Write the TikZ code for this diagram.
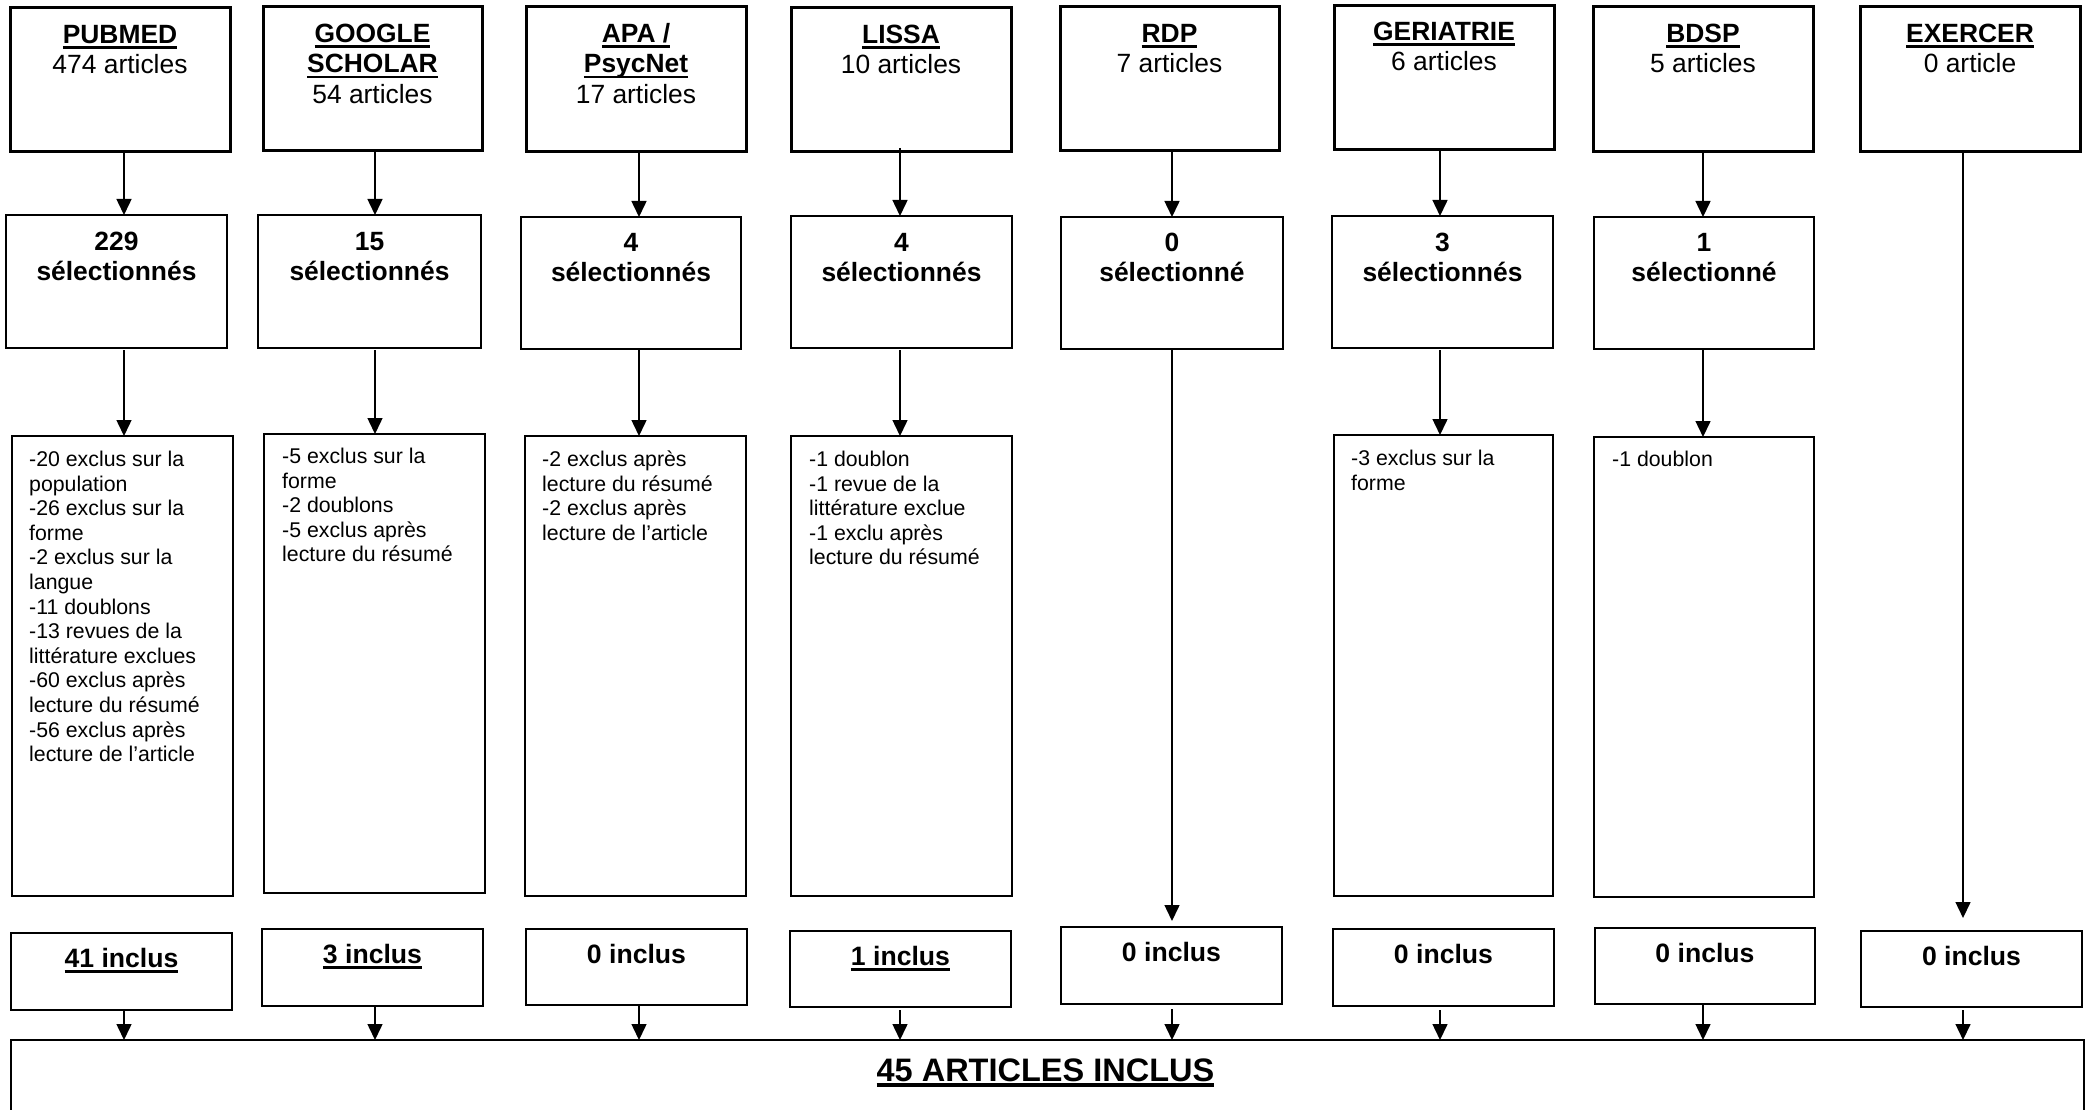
\documentclass[tikz,border=0pt]{standalone}
\usepackage{fontspec}
\setmainfont{Liberation Sans}
\usetikzlibrary{arrows.meta,calc}
\newcommand{\myul}[3]{\begingroup\setbox0\hbox{#3}\rlap{\rule[-#1]{\wd0}{#2}}\box0\endgroup}
\newcommand{\hd}[1]{\myul{0.2em}{0.1em}{\bfseries #1}}
\newcommand{\st}{\rule{0pt}{1em}}
\newcommand{\mkbox}[6]{\node[#1, minimum width={(#5)-(#3)}, minimum height={(#6)-(#4)}] (#2) at ({((#3)+(#5))/2},{((#4)+(#6))/2}) {};}
\tikzset{
  box/.style={draw=black, line width=1.5pt, inner sep=0pt, outer sep=0pt, rectangle},
  srcbox/.style={box, line width=3pt},
  arr/.style={draw=black, line width=1.5pt, -{Triangle[width=15pt,length=16pt]}},
  ttl/.style={anchor=north, inner sep=0pt, align=center, font=\fontsize{26.4}{30.4}\selectfont},
  seltxt/.style={anchor=north, inner sep=0pt, align=center, font=\fontsize{26.4}{29.6}\selectfont\bfseries},
  exctxt/.style={anchor=north west, inner sep=0pt, align=left, font=\fontsize{21.3}{24.6}\selectfont},
  inctxt/.style={anchor=north, inner sep=0pt, align=center, font=\fontsize{26.6}{30}\selectfont\bfseries},
  fintxt/.style={anchor=north, inner sep=0pt, align=center, font=\fontsize{32.5}{36}\selectfont\bfseries}
}
\begin{document}
\begin{tikzpicture}[x=1pt,y=-1pt]
\useasboundingbox (0,0) rectangle (2087,1110);
\clip (0,0) rectangle (2087,1110);
\fill[white] (0,0) rectangle (2087,1110);
% column axes
\coordinate (c1) at (124,0);
\coordinate (c2) at (375,0);
\coordinate (c3) at (639,0);
\coordinate (c4) at (900,0);
\coordinate (c5) at (1172,0);
\coordinate (c6) at (1440,0);
\coordinate (c7) at (1703,0);
\coordinate (c8) at (1963,0);
% source boxes
\mkbox{srcbox}{s1}{10}{8}{230}{152}
\mkbox{srcbox}{s2}{263}{7}{482}{151}
\mkbox{srcbox}{s3}{526}{7}{746}{152}
\mkbox{srcbox}{s4}{791}{8}{1011}{152}
\mkbox{srcbox}{s5}{1060}{7}{1279}{151}
\mkbox{srcbox}{s6}{1334}{6}{1554}{150}
\mkbox{srcbox}{s7}{1593}{7}{1813}{152}
\mkbox{srcbox}{s8}{1860}{7}{2080}{152}
\node[ttl] (s1x) at ($(s1.north)+(0,9)$) {\st\hd{PUBMED}\\474 articles};
\node[ttl] (s2x) at ($(s2.north)+(0,9)$) {\st\hd{GOOGLE}\\\hd{SCHOLAR}\\54 articles};
\node[ttl] (s3x) at ($(s3.north)+(0,9)$) {\st\hd{APA /}\\\hd{PsycNet}\\17 articles};
\node[ttl] (s4x) at ($(s4.north)+(0,9)$) {\st\hd{LISSA}\\10 articles};
\node[ttl] (s5x) at ($(s5.north)+(0,9)$) {\st\hd{RDP}\\7 articles};
\node[ttl] (s6x) at ($(s6.north)+(0,8)$) {\st\hd{GERIATRIE}\\6 articles};
\node[ttl] (s7x) at ($(s7.north)+(0,9)$) {\st\hd{BDSP}\\5 articles};
\node[ttl] (s8x) at ($(s8.north)+(0,9)$) {\st\hd{EXERCER}\\0 article};
% selected boxes
\mkbox{box}{t1}{6}{215}{227}{348}
\mkbox{box}{t2}{258}{215}{481}{348}
\mkbox{box}{t3}{521}{217}{741}{349}
\mkbox{box}{t4}{791}{216}{1012}{348}
\mkbox{box}{t5}{1061}{217}{1283}{349}
\mkbox{box}{t6}{1332}{216}{1553}{348}
\mkbox{box}{t7}{1594}{217}{1814}{349}
\node[seltxt] (t1x) at ($(t1.north)+(0,9)$) {\st 229\\sélectionnés};
\node[seltxt] (t2x) at ($(t2.north)+(0,9)$) {\st 15\\sélectionnés};
\node[seltxt] (t3x) at ($(t3.north)+(0,8)$) {\st 4\\sélectionnés};
\node[seltxt] (t4x) at ($(t4.north)+(0,9)$) {\st 4\\sélectionnés};
\node[seltxt] (t5x) at ($(t5.north)+(0,8)$) {\st 0\\sélectionné};
\node[seltxt] (t6x) at ($(t6.north)+(0,9)$) {\st 3\\sélectionnés};
\node[seltxt] (t7x) at ($(t7.north)+(0,8)$) {\st 1\\sélectionné};
% exclusion boxes
\mkbox{box}{e1}{12}{436}{233}{896}
\mkbox{box}{e2}{264}{434}{485}{893}
\mkbox{box}{e3}{525}{436}{746}{896}
\mkbox{box}{e4}{791}{436}{1012}{896}
\mkbox{box}{e6}{1334}{435}{1553}{896}
\mkbox{box}{e7}{1594}{437}{1814}{897}
\node[exctxt] (e1x) at ($(e1.north west)+(17,9)$) {\st-20 exclus sur la\\population\\-26 exclus sur la\\forme\\-2 exclus sur la\\langue\\-11 doublons\\-13 revues de la\\littérature exclues\\-60 exclus après\\lecture du résumé\\-56 exclus après\\lecture de l’article};
\node[exctxt] (e2x) at ($(e2.north west)+(18,8)$) {\st-5 exclus sur la\\forme\\-2 doublons\\-5 exclus après\\lecture du résumé};
\node[exctxt] (e3x) at ($(e3.north west)+(17,9)$) {\st-2 exclus après\\lecture du résumé\\-2 exclus après\\lecture de l’article};
\node[exctxt] (e4x) at ($(e4.north west)+(18,9)$) {\st-1 doublon\\-1 revue de la\\littérature exclue\\-1 exclu après\\lecture du résumé};
\node[exctxt] (e6x) at ($(e6.north west)+(17,9)$) {\st-3 exclus sur la\\forme};
\node[exctxt] (e7x) at ($(e7.north west)+(18,8)$) {\st-1 doublon};
% included boxes
\mkbox{box}{i1}{11}{933}{232}{1010}
\mkbox{box}{i2}{262}{929}{483}{1006}
\mkbox{box}{i3}{526}{929}{747}{1005}
\mkbox{box}{i4}{790}{931}{1011}{1007}
\mkbox{box}{i5}{1061}{927}{1282}{1004}
\mkbox{box}{i6}{1333}{929}{1554}{1006}
\mkbox{box}{i7}{1595}{928}{1815}{1004}
\mkbox{box}{i8}{1861}{931}{2082}{1007}
\node[inctxt] (i1x) at ($(i1.north)+(0,8)$) {\st\myul{0.19em}{0.1em}{41 inclus}};
\node[inctxt] (i2x) at ($(i2.north)+(0,8)$) {\st\myul{0.19em}{0.1em}{3 inclus}};
\node[inctxt] (i3x) at ($(i3.north)+(0,8)$) {\st 0 inclus};
\node[inctxt] (i4x) at ($(i4.north)+(0,8)$) {\st\myul{0.19em}{0.1em}{1 inclus}};
\node[inctxt] (i5x) at ($(i5.north)+(0,8)$) {\st 0 inclus};
\node[inctxt] (i6x) at ($(i6.north)+(0,8)$) {\st 0 inclus};
\node[inctxt] (i7x) at ($(i7.north)+(0,8)$) {\st 0 inclus};
\node[inctxt] (i8x) at ($(i8.north)+(0,8)$) {\st 0 inclus};
% final box
\mkbox{box}{f}{11}{1040}{2084}{1200}
\node[fintxt] (fx) at ($(f.north)+(-2,8.5)$) {\st\myul{0.18em}{0.12em}{45 ARTICLES INCLUS}};
% arrows source -> selected
\draw[arr] (s1.south -| c1) -- (t1.north -| c1);
\draw[arr] (s2.south -| c2) -- (t2.north -| c2);
\draw[arr] (s3.south -| c3) -- (t3.north -| c3);
\draw[arr] ([yshift=4pt]s4.south -| c4) -- (t4.north -| c4);
\draw[arr] (s5.south -| c5) -- (t5.north -| c5);
\draw[arr] (s6.south -| c6) -- (t6.north -| c6);
\draw[arr] (s7.south -| c7) -- (t7.north -| c7);
\draw[arr, shorten >=13pt] (s8.south -| c8) -- (i8.north -| c8);
% arrows selected -> exclusions
\draw[arr] ([yshift=-2pt]t1.south -| c1) -- (e1.north -| c1);
\draw[arr] ([yshift=-2pt]t2.south -| c2) -- (e2.north -| c2);
\draw[arr] ([yshift=-1pt]t3.south -| c3) -- (e3.north -| c3);
\draw[arr] ([yshift=-2pt]t4.south -| c4) -- (e4.north -| c4);
\draw[arr, shorten >=6pt] ([yshift=-1pt]t5.south -| c5) -- (i5.north -| c5);
\draw[arr] ([yshift=-2pt]t6.south -| c6) -- (e6.north -| c6);
\draw[arr] ([yshift=-1pt]t7.south -| c7) -- (e7.north -| c7);
% arrows included -> final
\draw[arr] (i1.south -| c1) -- (f.north -| c1);
\draw[arr] ([yshift=-1pt]i2.south -| c2) -- (f.north -| c2);
\draw[arr] (i3.south -| c3) -- (f.north -| c3);
\draw[arr] ([yshift=-3pt]i4.south -| c4) -- (f.north -| c4);
\draw[arr] ([yshift=-5pt]i5.south -| c5) -- (f.north -| c5);
\draw[arr] ([yshift=-4pt]i6.south -| c6) -- (f.north -| c6);
\draw[arr] (i7.south -| c7) -- (f.north -| c7);
\draw[arr] ([yshift=-3pt]i8.south -| c8) -- (f.north -| c8);
\end{tikzpicture}
\end{document}
